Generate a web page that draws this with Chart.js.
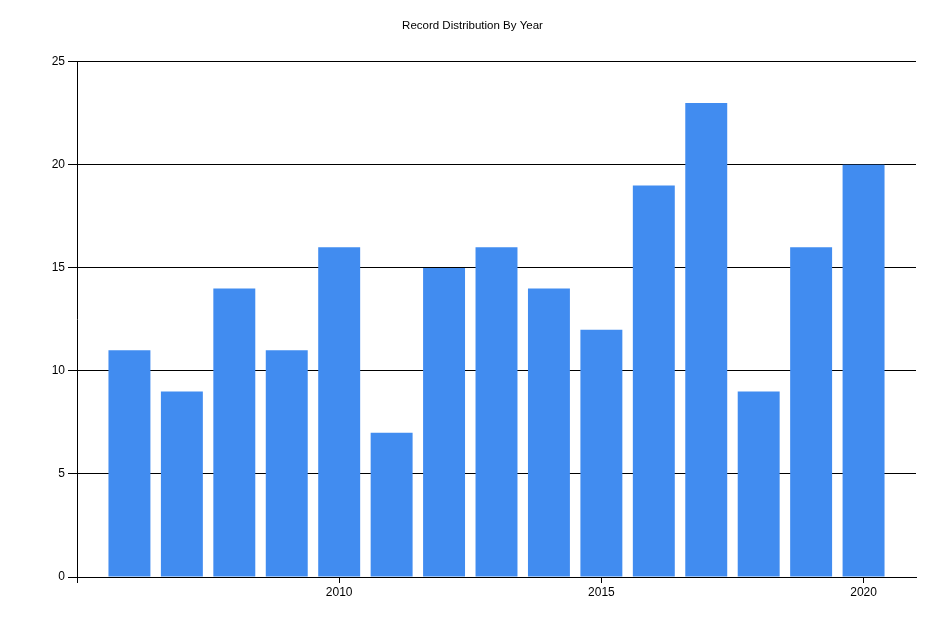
<!DOCTYPE html>
<html>
<head>
<meta charset="utf-8">
<script src="https://cdn.jsdelivr.net/npm/chart.js@4"></script>
<style>
  html, body { margin: 0; padding: 0; background: #fff; }
</style>
</head>
<body>
<canvas id="grafico" width="945" height="630"></canvas>
<script>
const anos = [2006, 2007, 2008, 2009, 2010, 2011, 2012, 2013, 2014, 2015, 2016, 2017, 2018, 2019, 2020]
const registros = [11, 9, 14, 11, 16, 7, 15, 16, 14, 12, 19, 23, 9, 16, 20]
const ticksX = [2005, 2010, 2015, 2020]
const ticksY = [0, 5, 10, 15, 20, 25]

const pontos = anos.map((a, i) => ({ x: a, y: registros[i] }))
const fonteTitulo = { family: 'Liberation Sans, Arial, sans-serif', size: 11.5, weight: 'normal' }
const fonte = { family: 'Liberation Sans, Arial, sans-serif', size: 12 }

const ctx = document.getElementById('grafico')

new Chart(ctx, {
  type: 'bar',
  data: {
    datasets: [{
      label: 'Records',
      data: pontos,
      backgroundColor: '#418CF0',
      borderWidth: 0,
      barPercentage: 1,
      categoryPercentage: 0.8
    }]
  },
  options: {
    responsive: false,
    animation: false,
    layout: { padding: 0 },
    plugins: {
      legend: { display: false },
      tooltip: { enabled: false },
      title: {
        display: true,
        text: 'Record Distribution By Year',
        color: '#000',
        font: fonteTitulo,
        padding: { top: 19, bottom: 29 }
      }
    },
    scales: {
      x: {
        type: 'linear',
        min: 2005,
        max: 2021,
        offset: false,
        afterBuildTicks: (s) => { s.ticks = ticksX.map(v => ({ value: v })) },
        afterFit: (s) => { s.height = 53 },
        ticks: {
          color: '#000',
          font: fonte,
          padding: 2,
          maxRotation: 0,
          callback: (v) => v === 2005 ? '' : String(v)
        },
        grid: { offset: false, drawOnChartArea: false, drawTicks: true, tickLength: 6, color: '#000' },
        border: { color: '#000', width: 1 }
      },
      y: {
        min: 0,
        max: 25,
        afterBuildTicks: (s) => { s.ticks = ticksY.map(v => ({ value: v })) },
        afterFit: (s) => { s.width = 77 },
        ticks: { color: '#000', font: fonte, padding: 3 },
        grid: { color: '#000', tickLength: 9 },
        border: { color: '#000', width: 1 }
      },
      margem: {
        position: 'right',
        afterFit: (s) => { s.width = 29 },
        ticks: { display: false },
        grid: { display: false },
        border: { display: false }
      }
    }
  }
})
</script>
</body>
</html>
